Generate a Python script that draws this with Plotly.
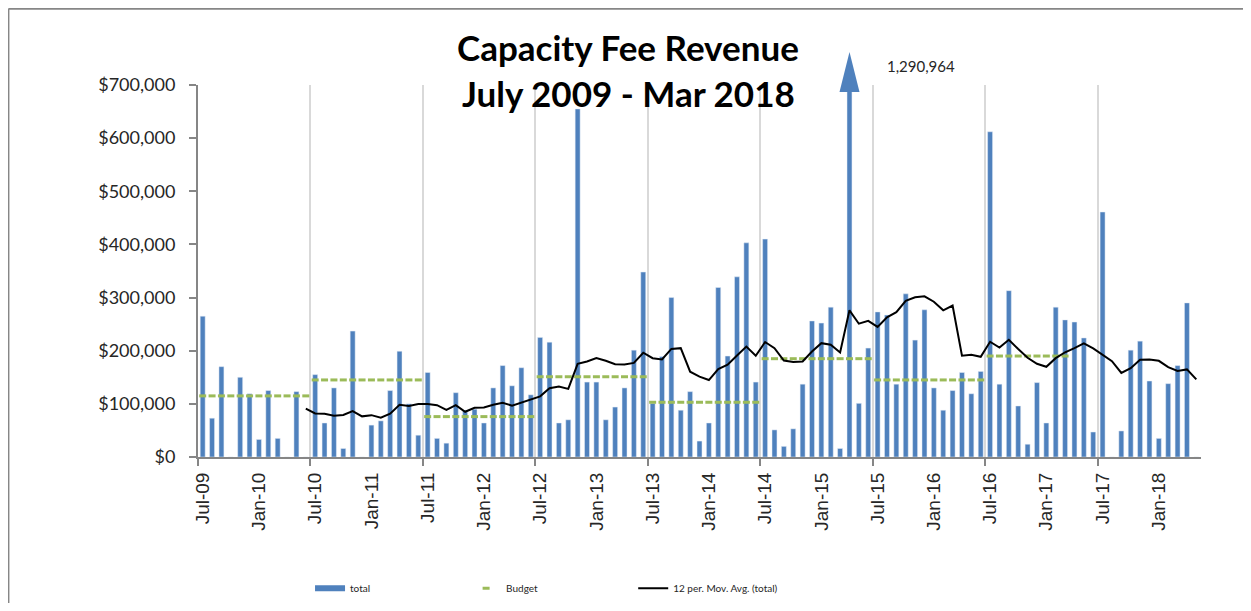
import pandas as pd
import plotly.graph_objects as go

# ---------------- data ----------------
months = list(pd.date_range("2009-07-01", periods=107, freq="MS").strftime("%b-%y"))

total = [
    265000, 73000, 170000, 0, 150000, 119000, 33000, 125000, 35000, 0, 123000, 0,          # FY10
    155000, 64000, 130000, 16000, 237000, 0, 60000, 68000, 125000, 199000, 100000, 41000,  # FY11
    159000, 35000, 26000, 121000, 88000, 90000, 64000, 130000, 172000, 134000, 168000, 117000,  # FY12
    225000, 216000, 64000, 70000, 655000, 141000, 141000, 70000, 94000, 130000, 201000, 348000,  # FY13
    101000, 189000, 300000, 88000, 123000, 30000, 64000, 319000, 190000, 339000, 403000, 141000,  # FY14
    410000, 51000, 20000, 53000, 137000, 256000, 252000, 282000, 16000, 1290964, 101000, 205000,  # FY15
    273000, 267000, 137000, 307000, 220000, 277000, 130000, 88000, 125000, 159000, 119000, 161000,  # FY16
    612000, 137000, 313000, 96000, 24000, 140000, 64000, 282000, 258000, 254000, 224000, 47000,  # FY17
    461000, 0, 49000, 201000, 218000, 143000, 35000, 138000, 172000, 290000, 0,  # FY18
]

fy_budget = [115000, 145000, 76000, 151000, 103000, 185000, 145000, 190000]
fy_budget_months = [12, 12, 12, 12, 12, 12, 12, 9]

y_ticks = [0, 100000, 200000, 300000, 400000, 500000, 600000, 700000]
y_max = 700000

title_lines = ["Capacity Fee Revenue", "July 2009 - Mar 2018"]
clipped_month = "Apr-15"

# ---------------- derived ----------------
n = len(months)
x_idx = list(range(n))
clipped_index = months.index(clipped_month)
budget = []
for v, m in zip(fy_budget, fy_budget_months):
    budget += [v] * m
budget += [None] * (n - len(budget))
mov_avg = pd.Series(total).rolling(12).mean().tolist()

label_vals = [i for i, m in enumerate(months) if m.startswith(("Jul", "Jan"))]
label_text = [months[i] for i in label_vals]
year_bounds = [i - 0.5 for i, m in enumerate(months) if m.startswith("Jul")]
y_ticktext = [f"${v:,}" for v in y_ticks]
clipped_paper_x = (clipped_index + 0.5) / n

BLUE = "#4F81BD"
GREEN = "#9BBB59"
AXIS = "#868686"
GRID = "#D9D9D9"
TXT = "#262626"

fig = go.Figure()
fig.add_trace(go.Bar(x=x_idx, y=total, marker_color=BLUE, name="total",
                     showlegend=False, hoverinfo="x+y"))
fig.add_trace(go.Scatter(x=x_idx, y=budget, mode="markers", name="Budget",
                         marker=dict(symbol="line-ew", size=5,
                                     line=dict(width=3, color=GREEN), color=GREEN),
                         legend="legend2"))
fig.add_trace(go.Scatter(x=x_idx, y=mov_avg, mode="lines", name="12 per. Mov. Avg. (total)",
                         line=dict(color="black", width=2), legend="legend3"))
# legend-only entry for the bar series (wide swatch as in the reference)
fig.add_trace(go.Scatter(x=[None], y=[None], mode="lines", name="total",
                         line=dict(color=BLUE, width=6), legend="legend"))

legend_common = dict(orientation="h", yanchor="middle", y=-0.353, xanchor="left",
                     font=dict(family="Lato", size=10, color=TXT),
                     bgcolor="rgba(0,0,0,0)", borderwidth=0)

title_font = dict(family="Lato", size=35, color="black", weight="bold")

fig.update_layout(
    width=1243, height=595,
    margin=dict(l=190, r=50, t=77, b=146, autoexpand=False),
    paper_bgcolor="white", plot_bgcolor="white",
    bargap=0.47,
    legend=dict(x=0.1117, **legend_common),
    legend2=dict(x=0.2673, **legend_common),
    legend3=dict(x=0.4339, **legend_common),
    xaxis=dict(range=[-0.5, n - 0.5], showgrid=False, zeroline=False,
               showline=True, linecolor=AXIS, linewidth=2,
               tickmode="array", tickvals=label_vals, ticktext=label_text,
               ticks="", tickangle=-90, ticklabelstandoff=6,
               tickfont=dict(family="Liberation Sans", size=19, color=TXT),
               minor=dict(tickmode="array", tickvals=year_bounds, ticks="outside",
                          ticklen=7, tickwidth=2, tickcolor=AXIS,
                          showgrid=True, gridcolor=GRID, gridwidth=2)),
    yaxis=dict(range=[0, y_max], showgrid=False, zeroline=False,
               showline=True, linecolor=AXIS, linewidth=2,
               tickmode="array", tickvals=y_ticks, ticktext=y_ticktext,
               ticks="outside", ticklen=7, tickwidth=2, tickcolor=AXIS,
               ticklabelstandoff=10,
               tickfont=dict(family="Lato", size=18, color=TXT)),
    shapes=[
        # arrowhead marking the clipped bar
        dict(type="path", xref="paper", xsizemode="pixel", xanchor=clipped_paper_x,
             yref="paper", ysizemode="pixel", yanchor=1,
             path="M-10,-7 L10,-7 L0,33 Z", fillcolor=BLUE, line=dict(width=0)),
        # chart-area frame
        dict(type="line", xref="paper", yref="paper", x0=-0.189, x1=1.06,
             y0=1.205, y1=1.205, line=dict(color=AXIS, width=2)),
        dict(type="line", xref="paper", yref="paper", x0=-0.189, x1=-0.189,
             y0=1.205, y1=-0.43, line=dict(color=AXIS, width=2)),
    ],
    annotations=[
        dict(x=0.4289, y=1.1012, xref="paper", yref="paper", text=title_lines[0],
             showarrow=False, xanchor="center", yanchor="middle", font=title_font),
        dict(x=0.4289, y=0.9777, xref="paper", yref="paper", text=title_lines[1],
             showarrow=False, xanchor="center", yanchor="middle", font=title_font),
        dict(x=clipped_index, y=y_max, xref="x", yref="y", text=f"{total[clipped_index]:,}",
             showarrow=False, xanchor="left", yanchor="middle", xshift=36, yshift=19,
             font=dict(family="Lato", size=15, color=TXT)),
    ],
)

fig.write_html("out.html")
